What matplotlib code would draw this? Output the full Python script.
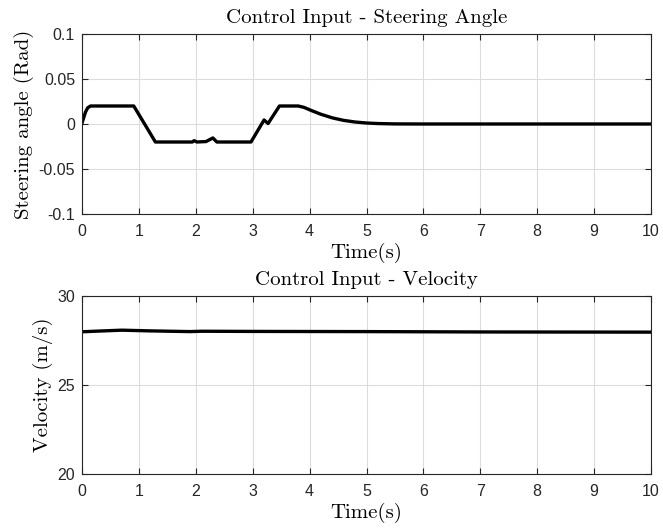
import matplotlib
matplotlib.use("Agg")
import matplotlib.pyplot as plt
import numpy as np

plt.rcParams['font.family'] = ['Liberation Sans', 'DejaVu Sans']
plt.rcParams['axes.unicode_minus'] = False

# Steering angle data (time s, rad)
steer_t = [0.0, 0.03, 0.06, 0.10, 0.15, 0.91, 1.29, 1.94, 1.97, 2.02, 2.18, 2.30, 2.37,
           2.97, 3.20, 3.27, 3.47, 3.80, 3.90, 4.05, 4.2, 4.4, 4.6, 4.8, 5.0, 5.2, 5.5, 6.0, 10.0]
steer_v = [0.001, 0.007, 0.013, 0.018, 0.020, 0.020, -0.020, -0.020, -0.0185, -0.020, -0.0195,
           -0.0155, -0.020, -0.020, 0.0045, 0.0005, 0.020, 0.020, 0.0185, 0.0145, 0.0108, 0.0068,
           0.0040, 0.0022, 0.0011, 0.0005, 0.0001, 0.0, 0.0]

# Velocity data (time s, m/s)
vel_t = [0.0, 0.3, 0.7, 1.2, 1.9, 2.1, 3.0, 5.0, 7.0, 10.0]
vel_v = [27.99, 28.03, 28.08, 28.04, 28.00, 28.02, 28.01, 28.00, 27.98, 27.97]

steer_yticks = [-0.1, -0.05, 0, 0.05, 0.1]
steer_yticklabels = ['-0.1', '-0.05', '0', '0.05', '0.1']
vel_yticks = [20, 25, 30]
xticks = list(range(0, 11))

W, H = 663, 529
fig = plt.figure(figsize=(W / 100, H / 100), dpi=100)

def px_axes(l, t, r, b):
    return fig.add_axes([l / W, 1 - b / H, (r - l) / W, (b - t) / H])

ax1 = px_axes(82, 34, 651, 214)
ax2 = px_axes(82, 296, 651, 474)

tick_color = '#262626'
cm_font = dict(family='cmr10')

for ax in (ax1, ax2):
    ax.set_xlim(0, 10)
    ax.set_xticks(xticks)
    ax.grid(True, color='#dcdcdc', linewidth=0.8)
    ax.set_axisbelow(True)
    ax.tick_params(direction='in', length=4, width=0.8, top=True, right=True,
                   labelsize=11.5, colors=tick_color, labelcolor=tick_color)
    ax.tick_params(axis='x', pad=7)
    ax.tick_params(axis='y', pad=5)
    for s in ax.spines.values():
        s.set_color(tick_color)
        s.set_linewidth(0.8)
    ax.set_xlabel('Time(s)', fontsize=15, labelpad=3, **cm_font)

ax1.plot(steer_t, steer_v, color='black', linewidth=2.4)
ax1.set_ylim(-0.1, 0.1)
ax1.set_yticks(steer_yticks)
ax1.set_yticklabels(steer_yticklabels)
ax1.set_ylabel('Steering angle (Rad)', fontsize=15, labelpad=3, **cm_font)
ax1.set_title('Control Input - Steering Angle', fontsize=15, pad=8, **cm_font)

ax2.plot(vel_t, vel_v, color='black', linewidth=2.4)
ax2.set_ylim(20, 30)
ax2.set_yticks(vel_yticks)
ax2.set_ylabel('Velocity (m/s)', fontsize=15, labelpad=3, **cm_font)
ax2.set_title('Control Input - Velocity', fontsize=15, pad=8, **cm_font)

fig.savefig('out.png', dpi=100, facecolor='white')
